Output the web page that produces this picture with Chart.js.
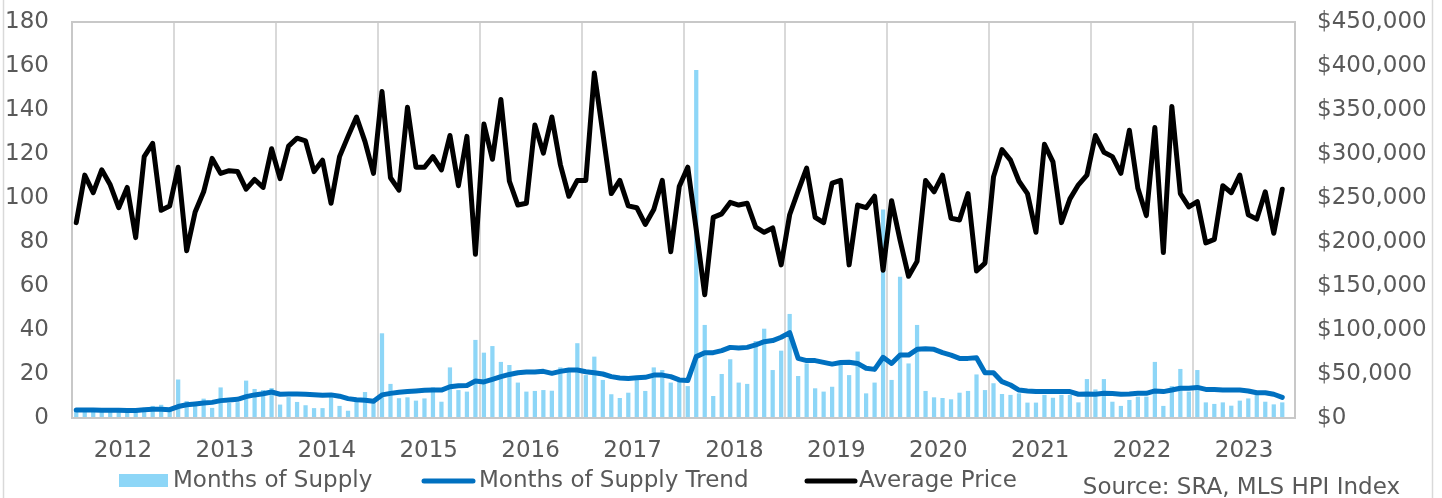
<!DOCTYPE html>
<html>
<head>
<meta charset="utf-8">
<script src="https://cdn.jsdelivr.net/npm/chart.js@4.4.1/dist/chart.umd.min.js"></script>
<style>
html,body{margin:0;padding:0;background:#fff;}
#wrap{position:relative;width:1442px;height:498px;overflow:hidden;}
canvas{display:block;}
</style>
</head>
<body>
<div id="wrap"><canvas id="c" width="1442" height="498"></canvas></div>
<script>
// ---- data ----
const years = ['2012','2013','2014','2015','2016','2017','2018','2019','2020','2021','2022','2023'];
const monthNames = ['Jan','Feb','Mar','Apr','May','Jun','Jul','Aug','Sep','Oct','Nov','Dec'];
const categories = years.flatMap(y => monthNames.map(m => m + ' ' + y));

const monthsOfSupply = [
  3.5, 3.5, 3.5, 3.2, 3.2, 3.5, 3.2, 3.2, 4.0, 5.5, 6.0, 4.2,
  17.5, 7.7, 7.0, 8.8, 4.6, 13.9, 6.8, 7.2, 17.0, 13.2, 12.7, 13.6,
  6.1, 9.5, 7.3, 5.8, 4.5, 4.5, 10.5, 5.5, 3.3, 8.2, 11.8, 8.0,
  38.5, 15.5, 9.0, 9.4, 7.9, 8.9, 13.9, 7.4, 23.0, 12.7, 12.0, 35.5,
  29.7, 32.7, 25.5, 24.1, 16.1, 12.0, 12.3, 12.7, 12.4, 23.0, 22.6, 34.0,
  19.5, 27.9, 17.3, 10.8, 9.1, 11.5, 17.3, 12.3, 23.0, 21.8, 16.1, 16.5,
  14.5, 158.2, 42.3, 10.0, 20.0, 26.7, 16.1, 15.5, 35.0, 40.6, 21.8, 30.6,
  47.3, 19.1, 24.8, 13.5, 12.0, 14.2, 24.1, 19.5, 30.2, 11.2, 16.1, 94.8,
  17.3, 64.2, 24.8, 42.3, 12.3, 9.4, 9.1, 8.5, 11.5, 12.3, 19.8, 12.7,
  15.8, 10.9, 10.5, 11.2, 7.0, 7.0, 10.5, 9.2, 10.5, 10.5, 7.1, 17.7,
  13.0, 17.7, 7.4, 5.5, 8.2, 9.7, 9.7, 25.5, 5.5, 14.5, 22.3, 12.0,
  21.8, 7.1, 6.4, 7.1, 5.6, 7.9, 8.9, 10.5, 7.4, 6.2, 7.1, null
];

const monthsOfSupplyTrend = [
  3.6, 3.6, 3.6, 3.5, 3.5, 3.5, 3.4, 3.4, 3.8, 4.0, 4.0, 3.8,
  5.2, 6.0, 6.4, 6.8, 7.1, 7.9, 8.2, 8.5, 9.7, 10.5, 11.0, 11.8,
  10.8, 10.9, 10.9, 10.8, 10.6, 10.3, 10.5, 9.9, 8.8, 8.3, 8.1, 7.6,
  10.5, 11.2, 11.7, 12.0, 12.3, 12.6, 12.7, 12.7, 14.2, 14.7, 14.8, 16.8,
  16.4, 17.6, 18.8, 19.8, 20.6, 20.9, 20.9, 21.2, 20.3, 21.2, 21.8, 21.8,
  21.0, 20.6, 20.0, 18.8, 18.2, 18.0, 18.3, 18.5, 19.5, 19.5, 18.8, 17.3,
  17.0, 27.9, 29.7, 29.7, 30.6, 32.1, 31.8, 32.1, 33.2, 34.7, 35.2, 36.7,
  38.8, 27.1, 26.1, 26.1, 25.3, 24.5, 25.2, 25.3, 24.8, 22.6, 22.1, 27.6,
  24.8, 28.6, 28.6, 31.2, 31.5, 31.2, 29.7, 28.6, 27.1, 27.1, 27.4, 20.6,
  20.6, 16.5, 15.0, 12.7, 12.3, 12.0, 12.0, 12.0, 12.1, 12.0, 10.8, 10.9,
  10.8, 11.2, 11.1, 10.8, 10.9, 11.2, 11.2, 12.3, 12.0, 12.7, 13.5, 13.5,
  13.9, 13.0, 13.0, 12.7, 12.7, 12.7, 12.3, 11.5, 11.5, 10.8, 9.4, null
];

const averagePrice = [
  222000, 276000, 256000, 282000, 265000, 239000, 262000, 205000, 297000, 312000, 236000, 241000,
  285000, 190000, 234000, 257000, 295000, 278000, 281000, 280000, 260000, 271000, 262000, 306000,
  272000, 309000, 318000, 315000, 280000, 293000, 244000, 297000, 320000, 342000, 314000, 278000,
  371000, 273000, 259000, 353000, 285000, 285000, 297000, 282000, 321000, 264000, 320000, 186000,
  334000, 294000, 362000, 269000, 242000, 244000, 333000, 301000, 342000, 288000, 252000, 270000,
  270000, 392000, 324000, 255000, 270000, 241000, 239000, 220000, 237000, 270000, 189000, 263000,
  285000, 214000, 140000, 228000, 232000, 245000, 242000, 244000, 217000, 211000, 216000, 174000,
  231000, 258000, 284000, 228000, 222000, 267000, 270000, 174000, 242000, 239000, 252000, 168000,
  247000, 202000, 161000, 178000, 270000, 257000, 276000, 227000, 225000, 255000, 167000, 176000,
  274000, 305000, 293000, 269000, 255000, 211000, 311000, 291000, 222000, 249000, 265000, 276000,
  321000, 302000, 297000, 278000, 327000, 261000, 230000, 330000, 188000, 354000, 255000, 240000,
  246000, 199000, 203000, 264000, 256000, 276000, 231000, 226000, 257000, 210000, 260000, null
];

const seriesNames = ['Months of Supply', 'Months of Supply Trend', 'Average Price'];
const leftAxis = { min: 0, max: 180, step: 20 };
const rightAxis = { min: 0, max: 450000, step: 50000 };
const sourceText = 'Source: SRA, MLS HPI Index';

// ---- styles ----
const FONT = "'DejaVu Sans', Verdana, sans-serif";
const TXT = '#595959';
const BAR_COLOR = '#8dd6f7';
const TREND_COLOR = '#0070c0';
const PRICE_COLOR = '#000000';
const GRID = '#d9d9d9';
const FRAME = '#c8c8c8';

const decor = {
  id: 'decor',
  beforeDraw(chart) {
    const ctx = chart.ctx;
    ctx.save();
    ctx.fillStyle = '#ffffff';
    ctx.fillRect(0, 0, chart.width, chart.height);
    ctx.strokeStyle = '#d9d9d9';
    ctx.lineWidth = 1.5;
    ctx.beginPath();
    ctx.moveTo(3.5, 0); ctx.lineTo(3.5, chart.height);
    ctx.moveTo(1432.5, 0); ctx.lineTo(1432.5, chart.height);
    ctx.stroke();
    ctx.restore();
  },
  afterDraw(chart) {
    const ctx = chart.ctx;
    ctx.save();
    const ly = 481;
    ctx.font = '23px ' + FONT;
    ctx.fillStyle = TXT;
    ctx.textBaseline = 'middle';
    ctx.textAlign = 'left';
    // item 1: bar box
    ctx.fillStyle = BAR_COLOR;
    ctx.fillRect(119, 474, 49, 13);
    ctx.fillStyle = TXT;
    ctx.fillText(seriesNames[0], 173, ly);
    // item 2: trend line
    ctx.lineCap = 'round';
    ctx.lineWidth = 5;
    ctx.strokeStyle = TREND_COLOR;
    ctx.beginPath(); ctx.moveTo(424, ly); ctx.lineTo(473, ly); ctx.stroke();
    ctx.fillText(seriesNames[1], 479, ly);
    // item 3: price line
    ctx.strokeStyle = PRICE_COLOR;
    ctx.beginPath(); ctx.moveTo(807, ly); ctx.lineTo(855, ly); ctx.stroke();
    ctx.fillText(seriesNames[2], 859, ly);
    // source
    ctx.textAlign = 'right';
    ctx.fillText(sourceText, 1400, 488);
    ctx.restore();
  }
};

Chart.defaults.font.family = FONT;
Chart.defaults.font.size = 23;
Chart.defaults.color = TXT;

const fixVertical = w => s => { s.width = w; s.paddingTop = 0; s.paddingBottom = 0; };

new Chart(document.getElementById('c'), {
  data: {
    labels: categories,
    datasets: [
      {
        type: 'line', label: seriesNames[2], data: averagePrice, yAxisID: 'y1',
        borderColor: PRICE_COLOR, borderWidth: 5, pointRadius: 0, tension: 0,
        borderJoinStyle: 'round', borderCapStyle: 'round', fill: false, order: 0
      },
      {
        type: 'line', label: seriesNames[1], data: monthsOfSupplyTrend, yAxisID: 'y',
        borderColor: TREND_COLOR, borderWidth: 5, pointRadius: 0, tension: 0,
        borderJoinStyle: 'round', borderCapStyle: 'round', fill: false, order: 1
      },
      {
        type: 'bar', label: seriesNames[0], data: monthsOfSupply, yAxisID: 'y',
        backgroundColor: BAR_COLOR, borderWidth: 0,
        barPercentage: 0.5, categoryPercentage: 1.0, order: 2
      }
    ]
  },
  options: {
    responsive: false,
    devicePixelRatio: 1,
    animation: false,
    events: [],
    layout: { padding: { top: 22, bottom: 40, left: 0, right: 0 } },
    plugins: { legend: { display: false }, tooltip: { enabled: false } },
    scales: {
      x: {
        type: 'category',
        offset: true,
        grid: {
          offset: true,
          drawTicks: false,
          lineWidth: 2,
          color: c => (c.index % 12 === 0) ? GRID : 'rgba(0,0,0,0)'
        },
        border: { display: true, color: FRAME, width: 2 },
        ticks: {
          autoSkip: false, maxRotation: 0, minRotation: 0,
          padding: 19,
          labelOffset: -4.25,
          color: TXT,
          font: { size: 23, family: FONT },
          callback: (v, i) => (i % 12 === 6) ? years[Math.floor(i / 12)] : ''
        },
        afterFit: s => { s.height = 40; s.paddingLeft = 0; s.paddingRight = 0; }
      },
      y: {
        position: 'left',
        min: leftAxis.min, max: leftAxis.max,
        grid: {
          drawTicks: false,
          lineWidth: 2,
          color: c => (c.tick && c.tick.value === leftAxis.max) ? FRAME : 'rgba(0,0,0,0)'
        },
        border: { display: true, color: FRAME, width: 2 },
        ticks: { stepSize: leftAxis.step, padding: 23, color: TXT, font: { size: 23, family: FONT } },
        afterFit: fixVertical(72)
      },
      y1: {
        position: 'right',
        min: rightAxis.min, max: rightAxis.max,
        grid: { display: false, drawTicks: false, drawOnChartArea: false },
        border: { display: true, color: FRAME, width: 2 },
        ticks: {
          stepSize: rightAxis.step, padding: 22, color: TXT, font: { size: 23, family: FONT },
          callback: v => '$' + Number(v).toLocaleString('en-US')
        },
        afterFit: fixVertical(147)
      }
    }
  },
  plugins: [decor]
});
</script>
</body>
</html>
